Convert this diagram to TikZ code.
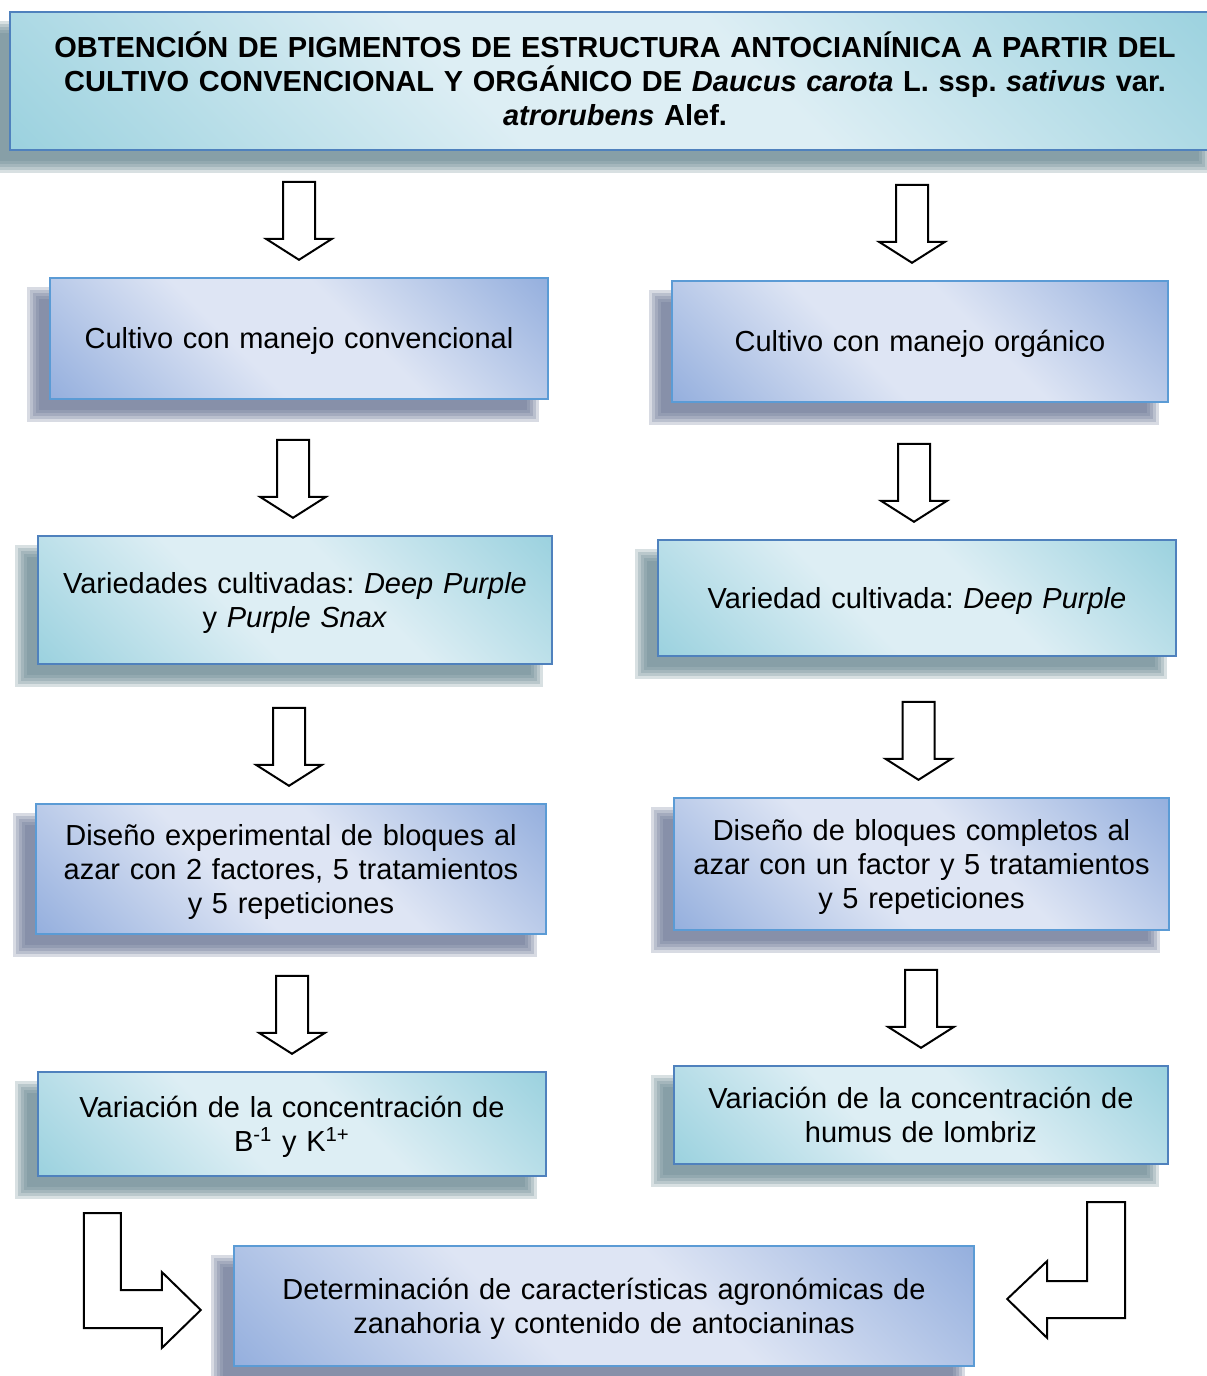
\documentclass[tikz,border=0pt]{standalone}
\usepackage{fontspec}
\setmainfont{Liberation Sans}
\usetikzlibrary{calc}
\frenchspacing

\pgfdeclarelayer{fondo}
\pgfsetlayers{fondo,main}

\definecolor{azulOsc}{RGB}{150,176,222}
\definecolor{azulCla}{RGB}{222,229,244}
\definecolor{cianOsc}{RGB}{156,210,223}
\definecolor{cianCla}{RGB}{221,238,244}
\definecolor{bordeAzul}{RGB}{91,155,213}
\definecolor{bordeCian}{RGB}{79,129,189}
\definecolor{sombraAzul}{RGB}{100,112,145}
\definecolor{sombraCian}{RGB}{100,132,142}

\pgfdeclarehorizontalshading{degAzul}{100bp}{color(0bp)=(azulOsc); color(15bp)=(azulOsc); color(42bp)=(azulCla); color(58bp)=(azulCla); color(85bp)=(azulOsc); color(100bp)=(azulOsc)}
\pgfdeclarehorizontalshading{degCian}{100bp}{color(0bp)=(cianOsc); color(15bp)=(cianOsc); color(42bp)=(cianCla); color(58bp)=(cianCla); color(85bp)=(cianOsc); color(100bp)=(cianOsc)}

\newcommand\puntal{\rule[-2.8pt]{0pt}{16.3pt}}

\tikzset{
  caja/.style={draw, line width=1.2pt, align=center, inner sep=0pt, shading angle=45,
    font=\fontsize{14.5}{17}\selectfont,
    execute at begin node=\puntal, execute at end node=\puntal},
  cajaAzul/.style={caja, draw=bordeAzul, shading=degAzul},
  cajaCian/.style={caja, draw=bordeCian, shading=degCian},
  flecha/.style={draw=black, fill=white, line width=1pt, line join=miter},
}

% sombra difusa, desplazada a la izquierda y abajo
\newcommand\sombra[2]{%
  \begin{pgfonlayer}{fondo}
    \foreach \e in {6,3,0,-3,-6}
      \fill[#2, opacity=0.25] ([shift={({-16-(\e)},{16-(\e)})}]#1.north west)
        rectangle ([shift={({-16+(\e)},{16+(\e)})}]#1.south east);
  \end{pgfonlayer}}

% flecha de bloque hacia abajo, con la punta sobre el nodo
\newcommand\flechaabajo[2][0]{%
  \draw[flecha] ([shift={(#1,-17)}]#2.north) -- ++(-33,-21) -- ++(17,0) -- ++(0,-57)
    -- ++(32,0) -- ++(0,57) -- ++(17,0) -- cycle;}

\begin{document}
\begin{tikzpicture}[x=0.5pt, y=-0.5pt]
\useasboundingbox (0,0) rectangle (1206,1376);
\begin{pgfonlayer}{fondo}
  \fill[white] (0,0) rectangle (1206,1376);
\end{pgfonlayer}

\node[cajaCian, minimum width=605pt, minimum height=69pt, text width=600pt,
  font=\fontsize{14.5}{17}\selectfont\bfseries] (titulo) at (615,81)
  {OBTENCIÓN DE PIGMENTOS DE ESTRUCTURA ANTOCIANÍNICA A PARTIR DEL\\
   CULTIVO CONVENCIONAL Y ORGÁNICO DE \textit{Daucus carota} L. ssp. \textit{sativus} var.\\
   \textit{atrorubens} Alef.};

% columna izquierda
\node[cajaAzul, minimum width=249pt, minimum height=60.5pt, text width=245pt] (conv) at (299,338.5)
  {Cultivo con manejo convencional};
\node[cajaCian, minimum width=257pt, minimum height=64pt, text width=253pt] (varConv) at (295,600)
  {Variedades cultivadas: \textit{Deep Purple}\\ y \textit{Purple Snax}};
\node[cajaAzul, minimum width=255pt, minimum height=65pt, text width=251pt] (disConv) at (291,869)
  {Diseño experimental de bloques al\\ azar con 2 factores, 5 tratamientos\\ y 5 repeticiones};
\node[cajaCian, minimum width=254pt, minimum height=52pt, text width=250pt] (concConv) at (292,1124)
  {Variación de la concentración de\\ B\textsuperscript{-1} y K\textsuperscript{1+}};

% columna derecha
\node[cajaAzul, minimum width=248pt, minimum height=60.5pt, text width=244pt] (org) at (920,341.5)
  {Cultivo con manejo orgánico};
\node[cajaCian, minimum width=259pt, minimum height=58pt, text width=255pt] (varOrg) at (917,598)
  {Variedad cultivada: \textit{Deep Purple}};
\node[cajaAzul, minimum width=247.5pt, minimum height=66pt, text width=243.5pt] (disOrg) at (921.5,864)
  {Diseño de bloques completos al\\ azar con un factor y 5 tratamientos\\ y 5 repeticiones};
\node[cajaCian, minimum width=247pt, minimum height=49pt, text width=243pt] (concOrg) at (921,1115)
  {Variación de la concentración de\\ humus de lombriz};

\node[cajaAzul, minimum width=370pt, minimum height=60pt, text width=366pt] (final) at (604,1306)
  {Determinación de características agronómicas de\\ zanahoria y contenido de antocianinas};

\sombra{titulo}{sombraCian}
\sombra{conv}{sombraAzul}
\sombra{varConv}{sombraCian}
\sombra{disConv}{sombraAzul}
\sombra{concConv}{sombraCian}
\sombra{org}{sombraAzul}
\sombra{varOrg}{sombraCian}
\sombra{disOrg}{sombraAzul}
\sombra{concOrg}{sombraCian}
\sombra{final}{sombraAzul}

\flechaabajo{conv}
\flechaabajo[-2]{varConv}
\flechaabajo[-2]{disConv}
\flechaabajo{concConv}
\flechaabajo[-8]{org}
\flechaabajo[-3]{varOrg}
\flechaabajo[-3]{disOrg}
\flechaabajo{concOrg}

% flechas dobladas hacia la caja final
\draw[flecha] ([shift={(-32,4)}]final.west) -- ++(-39,38) -- ++(0,-20) -- ++(-78,0)
  -- ++(0,-115) -- ++(37,0) -- ++(0,77) -- ++(41,0) -- ++(0,-18) -- cycle;
\draw[flecha] ([shift={(32,-7)}]final.east) -- ++(40,39) -- ++(0,-20) -- ++(78,0)
  -- ++(0,-116) -- ++(-38,0) -- ++(0,79) -- ++(-40,0) -- ++(0,-20) -- cycle;
\end{tikzpicture}
\end{document}
